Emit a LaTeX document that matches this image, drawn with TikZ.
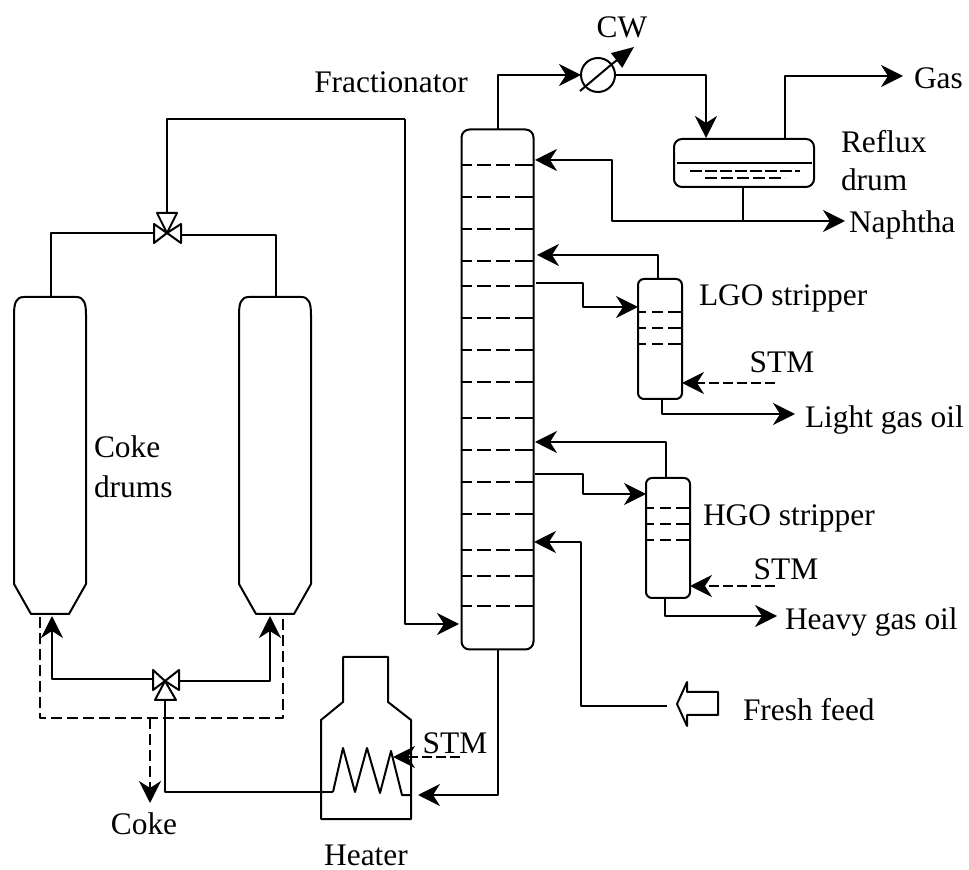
\documentclass[tikz,border=0pt]{standalone}
\usepackage{fontspec}
\setmainfont{Liberation Serif}
\usetikzlibrary{arrows.meta}

\begin{document}
\begin{tikzpicture}[
    x=0.5pt, y=-0.5pt,
    line width=1pt, line join=round,
    vessel/.style={draw, rounded corners=4pt, inner sep=0pt, outer sep=0pt},
    lab/.style={font=\fontsize{15.7}{18}\selectfont, inner sep=0pt},
    arr/.style={-{Stealth[length=11pt, width=11pt, inset=3.5pt]}},
    steam/.style={arr, dash pattern=on 5pt off 2pt},
    solids/.style={dash pattern=on 5.5pt off 2.5pt},
    tray/.style={dash pattern=on 5pt off 2.5pt on 7pt off 2.5pt on 7pt off 2.5pt on 9pt},
    striptray/.style={dash pattern=on 4pt off 3pt on 5.5pt off 2.5pt on 7pt},
  ]
    \useasboundingbox (0,0) rectangle (969,870);

    % main vessels
    \node[vessel, minimum width=36pt, minimum height=260pt] (frac) at (497.5,389.5) {};
    \node[vessel, minimum width=70pt, minimum height=24pt] (refl) at (744,163) {};
    \node[vessel, rounded corners=3pt, minimum width=22pt, minimum height=60pt] (lgo) at (660,339) {};
    \node[vessel, rounded corners=3pt, minimum width=22pt, minimum height=60pt] (hgo) at (668,538) {};
    \node[draw, circle, inner sep=0pt, outer sep=0pt, minimum size=17pt] (cw) at (598,75) {};

    % trays
    \foreach \y in {165,197,229,261,286,318,350,382,418,450,482,514,550,576,606}
      \draw[tray] (462,\y) -- (533,\y);
    \foreach \y in {312,328,344}
      \draw[striptray] (638,\y) -- (682,\y);
    \foreach \y in {508,524,540}
      \draw[striptray] (646,\y) -- (690,\y);
    \draw (677,163) -- (812,163);
    \draw[dash pattern=on 6pt off 1.5pt] (690,171) -- (800,171);
    \draw[dash pattern=on 6pt off 2pt] (705,178) -- (785,178);

    % coke drums
    \foreach \x/\d in {14/drumA,239/drumB} {
      \coordinate (\d top) at (\x+37,297);
      \coordinate (\d bot) at (\x+36,614);
      \draw (\x,400) -- (\x,315) .. controls (\x,303) and (\x+2,297) .. (\x+10,297)
        -- (\x+62,297) .. controls (\x+70,297) and (\x+72,303) .. (\x+72,315)
        -- (\x+72,584) -- (\x+55,614) -- (\x+17,614) -- (\x,584) -- cycle;
    }

    % valves
    \coordinate (vtop) at (167,233);
    \coordinate (vbot) at (165,681);
    \draw (vtop) -- (154,224) -- (154,243) -- cycle;
    \draw (vtop) -- (181,224) -- (181,243) -- cycle;
    \draw (vtop) -- (157,213) -- (177,213) -- cycle;
    \draw (vbot) -- (153,670) -- (153,690) -- cycle;
    \draw (vbot) -- (179,670) -- (179,690) -- cycle;
    \draw (vbot) -- (155,700) -- (176,700) -- cycle;

    % heater
    \draw (321,819) -- (321,720) -- (343,702) -- (343,657) -- (388,657) -- (388,702)
      -- (411,720) -- (411,819) -- cycle;
    \coordinate (coilin) at (411,795);
    \coordinate (coilout) at (333,792);
    \draw (coilout) -- (343,748) -- (355,792) -- (367,748) -- (380,793) -- (391,751)
      -- (402,795) -- (coilin);

    % feed arrow
    \draw (718,692) -- (687,692) -- (687,682) -- (677,704) -- (687,726) -- (687,715)
      -- (718,715) -- cycle;

    % labels
    \node[lab] (fraclab) at (391,82) {Fractionator};
    \node[lab] (cwlab) at (622,27) {CW};
    \node[lab, anchor=west] (gaslab) at (913,78) {Gas};
    \node[lab, anchor=west] (refllab) at (840,142) {Reflux};
    \node[lab, anchor=west] (drumlab) at (840,180) {drum};
    \node[lab, anchor=west] (naph) at (848,225) {Naphtha};
    \node[lab, anchor=west] (lgolab) at (698,298) {LGO stripper};
    \node[lab] (stma) at (782,362) {STM};
    \node[lab, anchor=west] (lgas) at (804,420) {Light gas oil};
    \node[lab, anchor=west] (hgolab) at (702,518) {HGO stripper};
    \node[lab] (stmb) at (786,569) {STM};
    \node[lab, anchor=west] (hgas) at (784,622) {Heavy gas oil};
    \node[lab, anchor=west] (fresh) at (742,710) {Fresh feed};
    \node[lab] (stmc) at (455,743) {STM};
    \node[lab] (cokelab) at (144,824) {Coke};
    \node[lab] (heatlab) at (366,855) {Heater};
    \node[lab, anchor=west] (cokedlab) at (93,447) {Coke};
    \node[lab, anchor=west] (drumslab) at (93,487) {drums};

    % overhead
    \draw[arr] (frac.north) |- (cw.west);
    \draw (580,91) -- (612,64);
    \draw[-{Stealth[length=11pt, width=9pt, inset=0pt]}] (612,64) -- (634,47);
    \draw[arr] (cw.east) -| (706,138);
    \draw[arr] (785,139) |- (903,76);
    \coordinate (reflin) at (535,160);
    \coordinate (naphj) at (743,221);
    \draw (refl.south -| naphj) -- (naphj);
    \draw[arr] (naphj) -- (845,221);
    \draw[arr] (naphj) -- (612,221) |- (reflin);

    % side strippers
    \coordinate (lgoin) at (537,255);
    \coordinate (lgoout) at (536,283);
    \draw[arr] (658,279) |- (lgoin);
    \draw[arr] (lgoout) -- (583,283) |- (lgo.west |- 0,307);
    \draw[steam] (775,383) -- (lgo.east |- 0,383);
    \draw[arr] (662,399) |- (795,414);
    \coordinate (hgoin) at (535,442);
    \coordinate (hgoout) at (535,474);
    \draw[arr] (666,478) |- (hgoin);
    \draw[arr] (hgoout) -- (583,474) |- (hgo.west |- 0,494);
    \draw[steam] (775,586) -- (hgo.east |- 0,586);
    \draw[arr] (665,598) |- (777,616);
    \draw[arr] (667,706) -- (581,706) |- (534,542);

    % reduced crude and drum piping
    \draw[arr] (frac.south) |- (418,795);
    \draw[steam] (460,757) -- (393,757);
    \draw (coilout) -- (165,792) -- (165,700);
    \draw[arr] (153,679) -| (52,616);
    \draw[arr] (179,681) -| (270,616);
    \draw (167,213) -- (167,119) -- (405,119);
    \draw[arr] (405,119) |- (459,624);
    \draw (154,233) -| (drumAtop);
    \draw (181,235) -| (drumBtop);
    \draw[solids] (40,617) |- (283,718) -- (283,617);
    \draw[arr, solids] (150,718) -- (150,803);
  \end{tikzpicture}
\end{document}
